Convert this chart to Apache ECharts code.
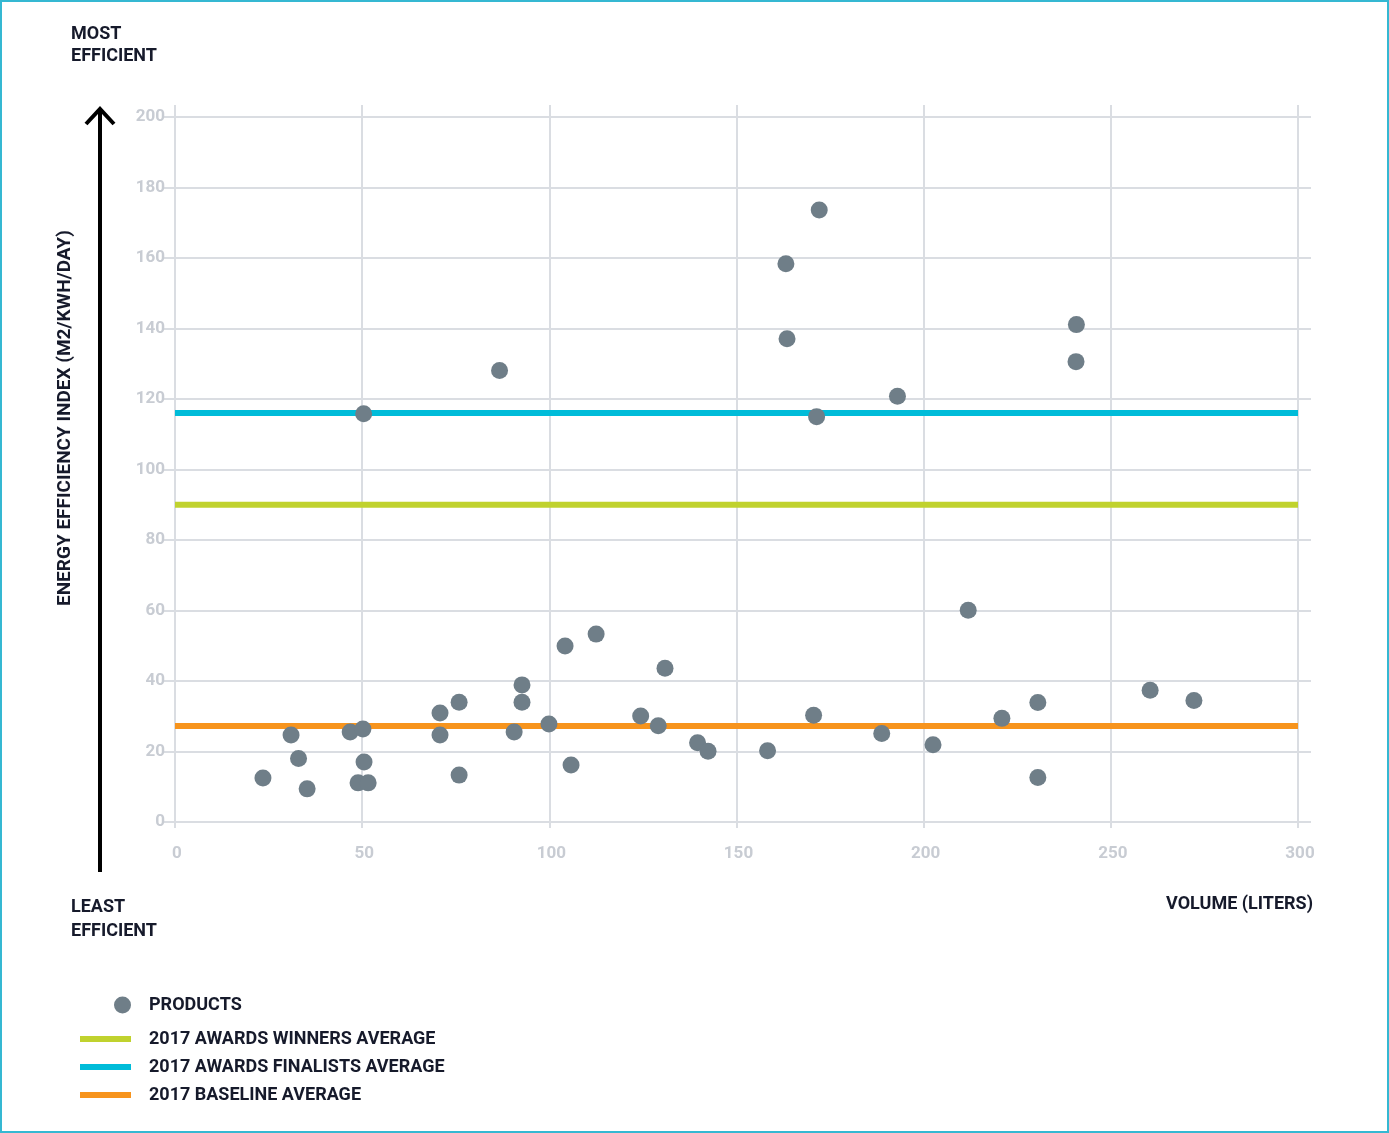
<!DOCTYPE html>
<html>
<head>
<meta charset="utf-8">
<script src="https://cdn.jsdelivr.net/npm/echarts@6/dist/echarts.min.js"></script>
<style>
html,body{margin:0;padding:0;background:#fff;}
#c{width:1389px;height:1133px;}
</style>
</head>
<body>
<div id="c"></div>
<script>
// ---- data ----
const volume = [23.5, 31, 33, 35.3, 46.8, 50.2, 50.5, 48.9, 51.6, 70.8, 70.8, 75.9, 75.9, 90.6, 92.7, 92.7, 99.9, 104.2, 105.8, 112.5, 124.4, 129.1, 130.9, 139.6, 142.4, 158.3, 170.6, 188.8, 202.5, 211.9, 220.9, 230.5, 230.5, 260.5, 272.2, 50.4, 86.7, 163.2, 163.5, 172.1, 171.4, 193, 240.8, 240.7];
const efficiency = [12.5, 24.7, 18, 9.4, 25.5, 26.4, 17, 11.1, 11.1, 30.9, 24.7, 34, 13.3, 25.5, 38.9, 34, 27.8, 49.9, 16.2, 53.3, 30.1, 27.3, 43.6, 22.5, 20.1, 20.2, 30.3, 25.1, 21.9, 60.1, 29.4, 33.9, 12.6, 37.4, 34.5, 115.8, 128.1, 158.4, 137.1, 173.6, 115, 120.8, 141.1, 130.6];
const averageNames = ['2017 AWARDS WINNERS AVERAGE', '2017 AWARDS FINALISTS AVERAGE', '2017 BASELINE AVERAGE'];
const averageValues = [90, 116, 27.2];
const xRange = [0, 300];
const yRange = [0, 200];
const xTicks = [0, 50, 100, 150, 200, 250, 300];
const yTicks = [0, 20, 40, 60, 80, 100, 120, 140, 160, 180, 200];

const averageColors = ['#c0d22e', '#00bcd9', '#f7941d'];
const dotColor = '#6f7e88';
const gridColor = '#dadde2';
const labelColor = '#c8ccd3';
const darkText = '#161a2b';
const font = 'Roboto';

const chart = echarts.init(document.getElementById('c'), null, {renderer: 'canvas'});

const points = volume.map((v, i) => [v, efficiency[i]]);

const avgSeries = averageNames.map((n, i) => ({
  name: n,
  type: 'line',
  xAxisIndex: 0, yAxisIndex: 0,
  data: [[xRange[0], averageValues[i]], [xRange[1], averageValues[i]]],
  showSymbol: false,
  symbol: 'none',
  color: averageColors[i],
  lineStyle: {color: averageColors[i], width: 6},
  z: 3,
  silent: true,
  animation: false
}));

const splitStyle = {show: true, lineStyle: {color: gridColor, width: 2}};
const hiddenLine = {show: true, onZero: false, lineStyle: {color: 'rgba(0,0,0,0)', width: 0}};

chart.setOption({
  animation: false,
  grid: {left: 175, right: 91, top: 117, bottom: 311, containLabel: false},
  xAxis: [{
    type: 'value', min: xRange[0], max: xRange[1], interval: 50, position: 'bottom',
    axisLine: {show: true, onZero: false, lineStyle: {color: gridColor, width: 2}},
    axisTick: {show: true, length: 6, lineStyle: {color: gridColor, width: 2}},
    splitLine: splitStyle,
    axisLabel: {color: labelColor, fontSize: 17, fontFamily: font, fontWeight: 'bold', margin: 23, padding: [0, 0, 0, 4],
      formatter: v => xTicks.includes(v) ? String(v) : ''}
  }, {
    type: 'value', min: xRange[0], max: xRange[1], interval: 50, position: 'top',
    axisLine: hiddenLine,
    axisTick: {show: true, length: 12, lineStyle: {color: gridColor, width: 2}},
    splitLine: {show: false},
    axisLabel: {show: false}
  }],
  yAxis: [{
    type: 'value', min: yRange[0], max: yRange[1], interval: 20, position: 'left',
    axisLine: {show: true, onZero: false, lineStyle: {color: gridColor, width: 2}},
    axisTick: {show: true, length: 12, lineStyle: {color: gridColor, width: 2}},
    splitLine: splitStyle,
    axisLabel: {color: labelColor, fontSize: 17, fontFamily: font, fontWeight: 'bold', margin: 10,
      formatter: v => yTicks.includes(v) ? String(v) : ''}
  }, {
    type: 'value', min: yRange[0], max: yRange[1], interval: 20, position: 'right',
    axisLine: hiddenLine,
    axisTick: {show: true, length: 13, lineStyle: {color: gridColor, width: 2}},
    splitLine: {show: false},
    axisLabel: {show: false}
  }],
  legend: [{
    data: ['PRODUCTS'],
    orient: 'vertical', left: 114, top: 995, padding: 0,
    itemWidth: 17, itemHeight: 17,
    icon: 'circle',
    selectedMode: false,
    textStyle: {color: darkText, fontSize: 18, fontWeight: 'bold', fontFamily: font, lineHeight: 20, padding: [0, 0, 0, 13]}
  }, {
    data: averageNames,
    orient: 'vertical', left: 80, top: 1029, padding: 0,
    itemWidth: 51, itemHeight: 6, itemGap: 8,
    icon: 'rect',
    selectedMode: false,
    textStyle: {color: darkText, fontSize: 18, fontWeight: 'bold', fontFamily: font, lineHeight: 20, padding: [0, 0, 0, 13]}
  }],
  series: avgSeries.concat([{
    name: 'PRODUCTS',
    type: 'scatter',
    data: points,
    symbol: 'circle',
    symbolSize: 17,
    itemStyle: {color: dotColor, opacity: 1},
    color: dotColor,
    z: 5,
    animation: false
  }, {
    name: 'frame',
    type: 'scatter',
    xAxisIndex: 1, yAxisIndex: 1,
    data: [],
    silent: true
  }]),
  graphic: [
    {type: 'rect', shape: {x: 1, y: 1, width: 1387, height: 1131}, style: {fill: 'none', stroke: '#35b8d2', lineWidth: 2}, silent: true},
    {type: 'text', left: 71, top: 23, style: {text: 'MOST\nEFFICIENT', fill: darkText, font: 'bold 18px Roboto', lineHeight: 22}},
    {type: 'text', left: 71, top: 895, style: {text: 'LEAST\nEFFICIENT', fill: darkText, font: 'bold 18px Roboto', lineHeight: 24}},
    {type: 'text', right: 76, top: 895, style: {text: 'VOLUME (LITERS)', fill: darkText, font: 'bold 18px Roboto'}},
    {type: 'text', x: 65, y: 418, rotation: Math.PI / 2,
      style: {text: 'ENERGY EFFICIENCY INDEX (M2/KWH/DAY)', fill: darkText, font: 'bold 19px Roboto', align: 'center', verticalAlign: 'middle'}},
    {type: 'line', shape: {x1: 100, y1: 872, x2: 100, y2: 110}, style: {stroke: '#000', lineWidth: 4}},
    {type: 'polyline', shape: {points: [[86, 124], [100, 109], [114, 124]]}, style: {stroke: '#000', lineWidth: 4, fill: 'none', lineJoin: 'miter'}}
  ]
});
</script>
</body>
</html>
